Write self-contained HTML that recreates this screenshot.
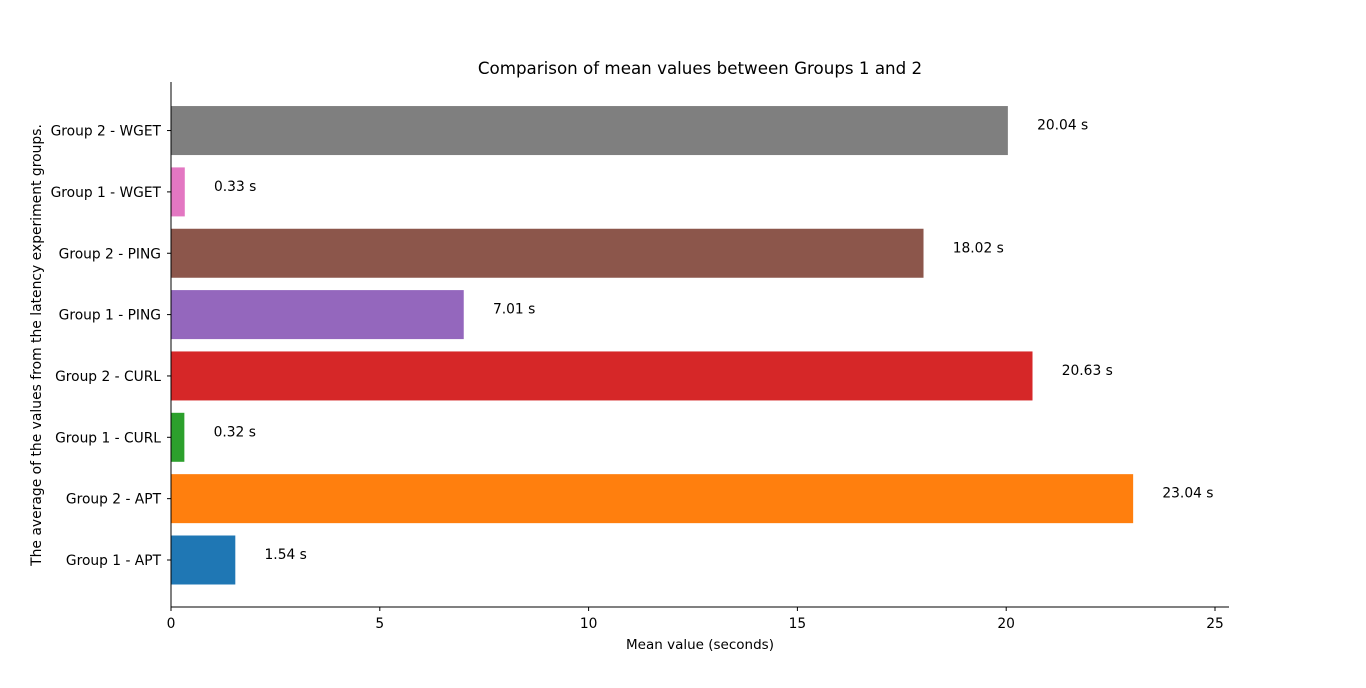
<!DOCTYPE html>
<html><head><meta charset="utf-8"><style>
body{margin:0;background:#fff;}
svg text{font-family:"DejaVu Sans","Liberation Sans",sans-serif;fill:#000;}
</style></head><body>
<svg id="chart" width="1366" height="683">
<text x="700" y="74" font-size="16.7" text-anchor="middle">Comparison of mean values between Groups 1 and 2</text>
<text x="700" y="649" font-size="13.5" text-anchor="middle">Mean value (seconds)</text>
<text transform="translate(41,345) rotate(-90)" font-size="13.9" text-anchor="middle">The average of the values from the latency experiment groups.</text>
<g id="bars"></g>
<g id="axes"></g>
</svg>
<script>
const categories=["Group 1 - APT","Group 2 - APT","Group 1 - CURL","Group 2 - CURL","Group 1 - PING","Group 2 - PING","Group 1 - WGET","Group 2 - WGET"];
const values=[1.54,23.04,0.32,20.63,7.01,18.02,0.33,20.04];
const colors=["#1f77b4","#ff7f0e","#2ca02c","#d62728","#9467bd","#8c564b","#e377c2","#7f7f7f"];
const xTicks=[0,5,10,15,20,25];
const NS="http://www.w3.org/2000/svg";
const x0=171,pxPerUnit=41.76,xEnd=1229,yTop=82,yBot=607;
const xs=v=>x0+v*pxPerUnit;
const yc=i=>560-i*61.35;
const bh=49;
function mk(t,a,p){const e=document.createElementNS(NS,t);for(const k in a)e.setAttribute(k,a[k]);p.appendChild(e);return e;}
const bars=document.getElementById('bars'),axes=document.getElementById('axes');
values.forEach((v,i)=>{
 const r=mk('rect',{x:x0,y:yc(i)-bh/2,width:xs(v)-x0,height:bh,fill:colors[i]},bars);
 
 
 const t=mk('text',{x:xs(v+0.7),y:yc(i)-1,'font-size':13.8},bars);
 t.textContent=v.toFixed(2)+' s';
 
 
 mk('line',{x1:x0-4,x2:x0,y1:yc(i),y2:yc(i),stroke:'#000'},axes);
 const l=mk('text',{x:x0-10,y:yc(i)+5,'font-size':13.8,'text-anchor':'end'},axes);
 l.textContent=categories[i];
 
 
});
xTicks.forEach(v=>{
 mk('line',{x1:xs(v),x2:xs(v),y1:yBot,y2:yBot+4,stroke:'#000'},axes);
 const t=mk('text',{x:xs(v),y:yBot+21,'font-size':13.8,'text-anchor':'middle'},axes);
 t.textContent=v;
 
 
});
const ya=mk('line',{x1:x0,x2:x0,y1:yTop,y2:yBot,stroke:'#000'},axes);


const xa=mk('line',{x1:x0,x2:xEnd,y1:yBot,y2:yBot,stroke:'#000'},axes);


</script>
</body></html>
